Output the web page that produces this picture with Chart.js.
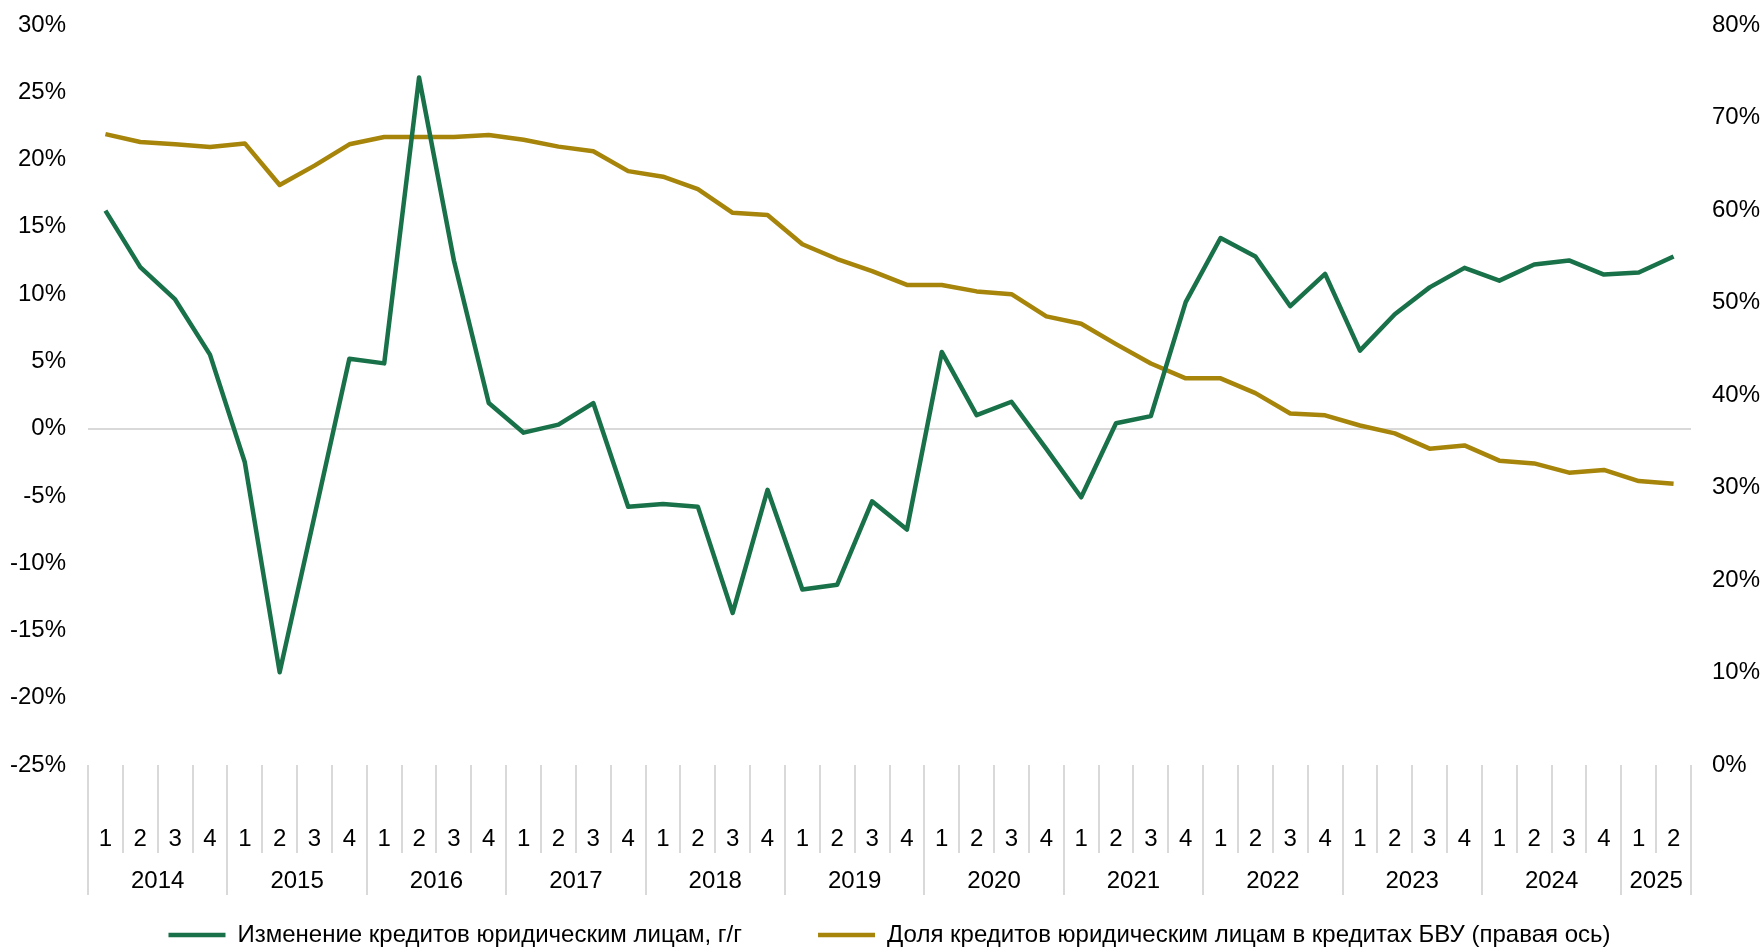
<!DOCTYPE html>
<html>
<head>
<meta charset="utf-8">
<script src="https://cdn.jsdelivr.net/npm/chart.js@4.4.1/dist/chart.umd.min.js"></script>
<style>
  html, body { margin: 0; padding: 0; background: #ffffff; }
  #wrap { width: 1764px; height: 950px; }
</style>
</head>
<body>
<div id="wrap"><canvas id="c" width="1764" height="950"></canvas></div>
<script>
// ---- categories ----
const years = ['2014','2015','2016','2017','2018','2019','2020','2021','2022','2023','2024','2025'];
const quartersPerYear = [4,4,4,4,4,4,4,4,4,4,4,2];
const quarterLabels = [
  '1','2','3','4', '1','2','3','4', '1','2','3','4', '1','2','3','4',
  '1','2','3','4', '1','2','3','4', '1','2','3','4', '1','2','3','4',
  '1','2','3','4', '1','2','3','4', '1','2','3','4', '1','2'
];

// ---- series (percent) ----
const loanGrowthYoY = [
  16.2, 12.0, 9.6, 5.5,  -2.5, -18.1, -6.5, 5.2,  4.85, 26.1, 12.5, 1.9,
  -0.3, 0.3, 1.9, -5.8,  -5.6, -5.8, -13.7, -4.55,  -11.95, -11.6, -5.4, -7.5,
  5.7, 1.0, 2.0, -1.5,  -5.1, 0.4, 0.93, 9.4,  14.17, 12.8, 9.1, 11.5,
  5.8, 8.5, 10.5, 11.95,  11.0, 12.2, 12.5, 11.45,  11.6, 12.8
];
const corporateShare = [
  68.2, 67.35, 67.1, 66.8,  67.2, 62.7, 64.8, 67.1,  67.9, 67.9, 67.9, 68.1,
  67.6, 66.85, 66.35, 64.2,  63.6, 62.25, 59.7, 59.45,  56.3, 54.7, 53.4, 51.9,
  51.9, 51.2, 50.9, 48.5,  47.7, 45.5, 43.4, 41.8,  41.8, 40.2, 38.0, 37.8,
  36.7, 35.85, 34.2, 34.55,  32.9, 32.6, 31.6, 31.9,  30.7, 30.4
];

// ---- axis ranges / tick steps ----
const leftAxis = { min: -25, max: 30, step: 5 };
const rightAxis = { min: 0, max: 80, step: 10 };

const seriesNames = [
  'Изменение кредитов юридическим лицам, г/г',
  'Доля кредитов юридическим лицам в кредитах БВУ (правая ось)'
];

// year group boundaries and centres (in category index units)
const yearBoundaries = [];
const yearCentres = [];
(function () {
  let start = 0;
  yearBoundaries.push(start - 0.5);
  quartersPerYear.forEach(n => {
    yearCentres.push(start + (n - 1) / 2);
    start += n;
    yearBoundaries.push(start - 0.5);
  });
})();
const yearTickValues = yearBoundaries.concat(yearCentres).sort((a, b) => a - b);
const isBoundary = v => yearBoundaries.some(b => Math.abs(b - v) < 1e-6);
const yearAt = v => {
  const i = yearCentres.findIndex(c => Math.abs(c - v) < 1e-6);
  return i >= 0 ? years[i] : '';
};

const GREEN = '#187148';
const GOLD = '#A6850A';
const GRID = '#d9d9d9';
const FONT = "'Liberation Sans', Arial, sans-serif";
const FS = 24;

Chart.defaults.font.family = FONT;
Chart.defaults.font.size = FS;
Chart.defaults.color = '#000000';

new Chart(document.getElementById('c'), {
  type: 'line',
  data: {
    labels: quarterLabels,
    datasets: [
      {
        label: seriesNames[0],
        data: loanGrowthYoY,
        borderColor: GREEN,
        backgroundColor: GREEN,
        borderWidth: 4.5,
        pointRadius: 0,
        tension: 0,
        borderJoinStyle: 'round',
        xAxisID: 'x',
        yAxisID: 'y'
      },
      {
        label: seriesNames[1],
        data: corporateShare,
        borderColor: GOLD,
        backgroundColor: GOLD,
        borderWidth: 4.5,
        pointRadius: 0,
        tension: 0,
        borderJoinStyle: 'round',
        xAxisID: 'x',
        yAxisID: 'y2'
      }
    ]
  },
  options: {
    responsive: false,
    animation: false,
    devicePixelRatio: 1,
    events: [],
    layout: { padding: { top: 25, left: 0, right: 0, bottom: 0 } },
    plugins: {
      tooltip: { enabled: false },
      legend: {
        position: 'bottom',
        fullSize: false,
        maxHeight: 103,
        labels: {
          usePointStyle: true,
          pointStyle: 'line',
          pointStyleWidth: 57,
          padding: 76,
          color: '#000000',
          font: { size: FS, family: FONT }
        }
      }
    },
    scales: {
      x: {
        type: 'category',
        position: 'bottom',
        offset: true,
        border: { display: false },
        grid: {
          offset: true,
          drawOnChartArea: false,
          drawTicks: true,
          tickLength: 88,
          color: GRID,
          lineWidth: 2
        },
        ticks: {
          autoSkip: false,
          maxRotation: 0,
          minRotation: 0,
          mirror: true,
          padding: -89,
          color: '#000000',
          font: { size: FS }
        },
        afterFit: s => { s.height = 0; }
      },
      x2: {
        type: 'linear',
        position: 'bottom',
        min: -0.5,
        max: quarterLabels.length - 0.5,
        border: { display: false },
        afterBuildTicks: s => { s.ticks = yearTickValues.map(v => ({ value: v })); },
        grid: {
          drawOnChartArea: false,
          drawTicks: true,
          tickLength: 130,
          color: ctx => (ctx.tick && isBoundary(ctx.tick.value)) ? GRID : 'rgba(0,0,0,0)',
          tickColor: ctx => (ctx.tick && isBoundary(ctx.tick.value)) ? GRID : 'rgba(0,0,0,0)',
          lineWidth: 2
        },
        ticks: {
          autoSkip: false,
          maxRotation: 0,
          minRotation: 0,
          mirror: true,
          padding: -131,
          color: '#000000',
          font: { size: FS },
          callback: v => yearAt(v)
        },
        afterFit: s => { s.height = 82; }
      },
      y: {
        position: 'left',
        min: leftAxis.min,
        max: leftAxis.max,
        border: { display: false },
        grid: {
          drawTicks: false,
          color: ctx => (ctx.tick && ctx.tick.value === 0) ? GRID : 'rgba(0,0,0,0)',
          lineWidth: 2
        },
        ticks: {
          stepSize: leftAxis.step,
          padding: 22,
          color: '#000000',
          font: { size: FS },
          callback: v => v + '%'
        },
        afterFit: s => { s.width = 88; s.paddingTop = 0; s.paddingBottom = 0; }
      },
      y2: {
        position: 'right',
        min: rightAxis.min,
        max: rightAxis.max,
        border: { display: false },
        grid: { display: false, drawTicks: false },
        ticks: {
          stepSize: rightAxis.step,
          padding: 21,
          color: '#000000',
          font: { size: FS },
          callback: v => v + '%'
        },
        afterFit: s => { s.width = 73; s.paddingTop = 0; s.paddingBottom = 0; }
      }
    }
  }
});
</script>
</body>
</html>
